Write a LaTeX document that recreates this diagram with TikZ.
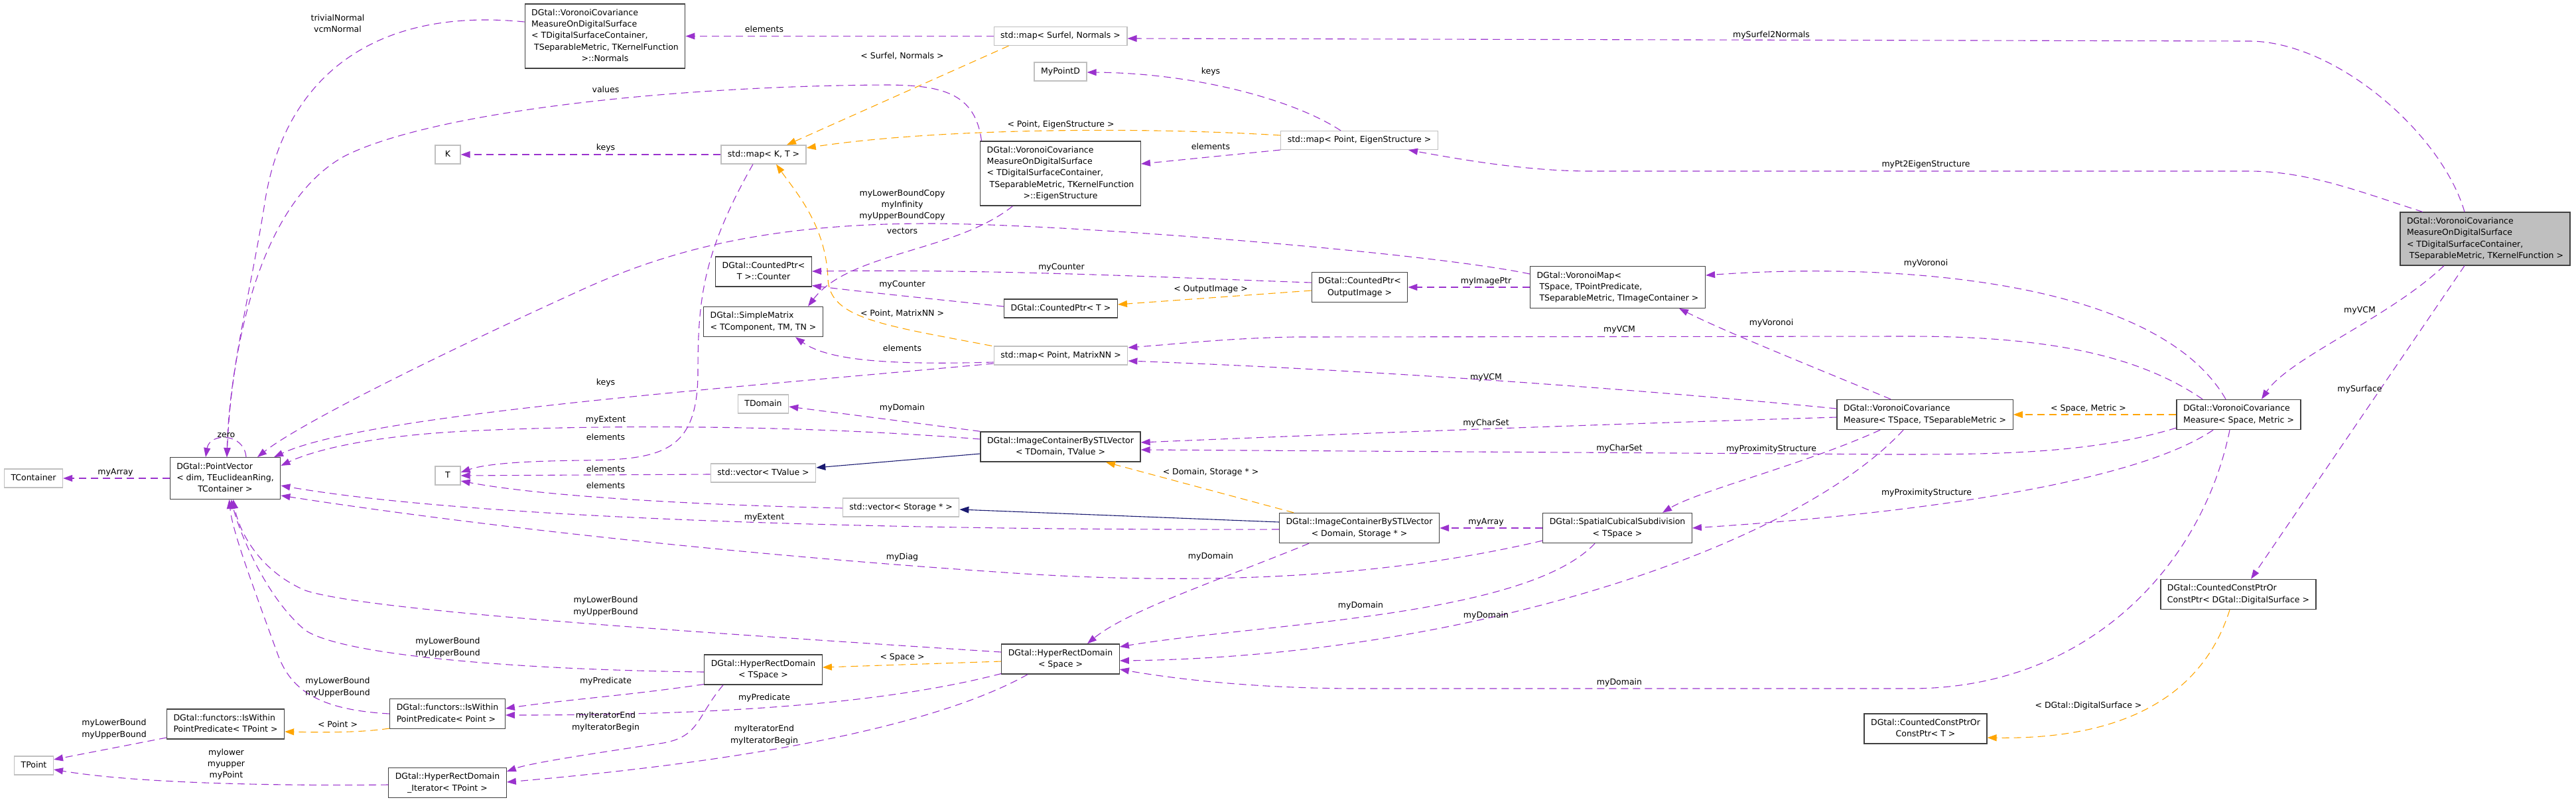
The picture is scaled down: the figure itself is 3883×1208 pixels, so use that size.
\documentclass[tikz,border=0pt]{standalone}
\usepackage{fontspec}
\setmainfont{DejaVu Sans}
\usetikzlibrary{arrows.meta}

\definecolor{usecol}{HTML}{9A32CD}
\definecolor{tmplcol}{HTML}{FFA500}
\definecolor{inhcol}{HTML}{191970}
\definecolor{boxdark}{HTML}{404040}
\definecolor{boxlight}{HTML}{BFBFBF}

\newcommand{\cltext}[1]{\begin{tabular}{@{}l@{}}#1\end{tabular}}
\newcommand{\lastrow}[1]{\multicolumn{1}{@{}c@{}}{#1}}

\begin{document}
\begin{tikzpicture}[x=1pt, y=-1pt,
  font=\fontsize{12.5}{17.3}\selectfont,
  box/.style={draw=boxdark, line width=1.3pt, fill=white, inner xsep=10pt, inner ysep=5.3pt, minimum width=38pt},
  ext/.style={box, draw=boxlight},
  cur/.style={box, fill=boxlight},
  use/.style={draw=usecol, line width=1.1pt, dash pattern=on 11pt off 7pt, -{Triangle[length=14pt, width=10pt]}},
  tmpl/.style={use, draw=tmplcol},
  inh/.style={draw=inhcol, line width=1.1pt, -{Triangle[length=14pt, width=10pt]}},
  lbl/.style={inner sep=0pt, align=center}]
                \useasboundingbox (0,0) rectangle (3883,1208);

                % Classes
                \node[box] (nrm) at (912,54.5) {\cltext{DGtal::VoronoiCovariance\\MeasureOnDigitalSurface\\< TDigitalSurfaceContainer,\\\ TSeparableMetric, TKernelFunction\\\lastrow{>::Normals}}};
                \node[ext] (mapsn) at (1598.5,54.5) {\cltext{std::map< Surfel, Normals >}};
                \node[ext] (mypd) at (1598.5,108) {\cltext{MyPointD}};
                \node[ext] (kk) at (675,233) {\cltext{K}};
                \node[ext] (mapkt) at (1151,233) {\cltext{std::map< K, T >}};
                \node[box] (eig) at (1598.5,261.5) {\cltext{DGtal::VoronoiCovariance\\MeasureOnDigitalSurface\\< TDigitalSurfaceContainer,\\\ TSeparableMetric, TKernelFunction\\\lastrow{>::EigenStructure}}};
                \node[ext] (mappe) at (2049,211.5) {\cltext{std::map< Point, EigenStructure >}};
                \node[cur] (vcmds) at (3746,360) {\cltext{DGtal::VoronoiCovariance\\MeasureOnDigitalSurface\\< TDigitalSurfaceContainer,\\\ TSeparableMetric, TKernelFunction >}};
                \node[box] (cnt) at (1151,409.5) {\cltext{DGtal::CountedPtr<\\\lastrow{T >::Counter}}};
                \node[box] (smat) at (1150.5,485) {\cltext{DGtal::SimpleMatrix\\< TComponent, TM, TN >}};
                \node[box] (cptr) at (1599,465) {\cltext{DGtal::CountedPtr< T >}};
                \node[box] (cpoi) at (2049.5,433) {\cltext{DGtal::CountedPtr<\\\lastrow{OutputImage >}}};
                \node[box] (vmap) at (2438.5,433) {\cltext{DGtal::VoronoiMap<\\\ TSpace, TPointPredicate,\\\ TSeparableMetric, TImageContainer >}};
                \node[ext] (mappm) at (1599,536) {\cltext{std::map< Point, MatrixNN >}};
                \node[ext] (tdom) at (1150.5,609) {\cltext{TDomain}};
                \node[box] (imgtv) at (1598.5,673.5) {\cltext{DGtal::ImageContainerBySTLVector\\\lastrow{< TDomain, TValue >}}};
                \node[ext] (vectv) at (1150.5,713) {\cltext{std::vector< TValue >}};
                \node[ext] (vecst) at (1358,765) {\cltext{std::vector< Storage * >}};
                \node[box] (imgds) at (2049,796) {\cltext{DGtal::ImageContainerBySTLVector\\\lastrow{< Domain, Storage * >}}};
                \node[box] (scs) at (2438,796) {\cltext{DGtal::SpatialCubicalSubdivision\\\lastrow{< TSpace >}}};
                \node[box] (vcmt) at (2901.5,625) {\cltext{DGtal::VoronoiCovariance\\Measure< TSpace, TSeparableMetric >}};
                \node[box] (vcms) at (3374.5,625) {\cltext{DGtal::VoronoiCovariance\\Measure< Space, Metric >}};
                \node[box] (pvec) at (339.5,721) {\cltext{DGtal::PointVector\\< dim, TEuclideanRing,\\\lastrow{TContainer >}}};
                \node[ext] (tcont) at (50.5,721) {\cltext{TContainer}};
                \node[ext] (tt) at (675,717) {\cltext{T}};
                \node[box] (iwp) at (674.5,1076) {\cltext{DGtal::functors::IsWithin\\PointPredicate< Point >}};
                \node[box] (iwtp) at (340,1091.5) {\cltext{DGtal::functors::IsWithin\\PointPredicate< TPoint >}};
                \node[ext] (tpt) at (51,1154) {\cltext{TPoint}};
                \node[box] (hrdi) at (674.5,1180) {\cltext{DGtal::HyperRectDomain\\\lastrow{\_Iterator< TPoint >}}};
                \node[box] (hrdt) at (1150.5,1009.5) {\cltext{DGtal::HyperRectDomain\\\lastrow{< TSpace >}}};
                \node[box] (hrds) at (1598.5,993.5) {\cltext{DGtal::HyperRectDomain\\\lastrow{< Space >}}};
                \node[box] (ccds) at (3374,896) {\cltext{DGtal::CountedConstPtrOr\\ConstPtr< DGtal::DigitalSurface >}};
                \node[box] (cct) at (2902.5,1098.5) {\cltext{DGtal::CountedConstPtrOr\\\lastrow{ConstPtr< T >}}};

                % Members of the surface measure
                \draw[use] ([xshift=-31]vcmds.north) .. controls (3680,200) and (3520,62) .. (3390,62) -- ([yshift=-3.5]mapsn.east);
                \draw[use] ([xshift=-94]vcmds.north) .. controls (3560,290) and (3480,258) .. (3390,258) -- (2397,258) .. controls (2300,258) and (2200,240) .. ([xshift=74]mappe.south);
                \draw[use] ([xshift=-62]vcmds.south) .. controls (3600,480) and (3450,540) .. ([xshift=34.5]vcms.north);
                \draw[use] ([xshift=-31]vcmds.south) -- ([xshift=19]ccds.north);
                \draw[tmpl] ([xshift=-13]ccds.south) .. controls (3320,1050) and (3200,1115) .. ([yshift=-13.5]cct.east);

                % Maps
                \draw[use] (mapsn.west) -- (nrm.east);
                \draw[tmpl] ([xshift=-78]mapsn.south) -- ([xshift=35]mapkt.north);
                \draw[tmpl] ([yshift=7.5]mappe.west) .. controls (1700,190) and (1400,195) .. ([yshift=10]mapkt.east);
                \draw[use] ([xshift=-28]mappe.north) .. controls (1950,150) and (1800,110) .. ([yshift=-1]mypd.east);
                \draw[use] ([yshift=-14.5]mappe.west) -- ([yshift=14.5]eig.east);
                \draw[use] (mapkt.west) -- (kk.east);
                \draw[use] ([xshift=-16]mapkt.south) .. controls (1060,380) and (1052,450) .. (1052,560) .. controls (1052,680) and (1000,693) .. (880,694) .. controls (780,695) and (730,700) .. ([yshift=5]tt.east);
                \draw[tmpl] ([xshift=-104]mappm.north) .. controls (1330,490) and (1250,480) .. (1248,420) .. controls (1245,340) and (1200,290) .. ([xshift=19]mapkt.south);
                \draw[use] ([yshift=-10]mappm.west) .. controls (1350,550) and (1250,545) .. ([xshift=48.5]smat.south);
                \draw[use] ([yshift=-12]mappm.west) .. controls (1100,585) and (550,625) .. ([xshift=73.5]pvec.north);

                % Into the point vector from above
                \draw[use] ([yshift=21.5]nrm.west) .. controls (560,10) and (430,120) .. (400,300) .. controls (380,430) and (345,560) .. ([xshift=2.5]pvec.north);
                \draw[use] ([xshift=-119]eig.north) .. controls (1470,140) and (1420,128) .. (1333,128) .. controls (1000,130) and (650,170) .. (520,235) .. controls (400,300) and (350,500) .. ([xshift=2.5]pvec.north);
                \draw[use] ([xshift=-72]eig.south) .. controls (1440,380) and (1280,380) .. ([xshift=67.5]smat.north);
                \draw[use] ([yshift=20]vmap.west) .. controls (2150,380) and (1600,337) .. (1400,337) .. controls (1150,337) and (1000,380) .. (870,440) .. controls (650,540) and (450,640) .. ([xshift=48.5]pvec.north);
                \draw[use] ([xshift=31.5]pvec.north) .. controls (368,652) and (316,652) .. ([xshift=-29.5]pvec.north);

                % Counted pointers
                \draw[use] (vmap.west) -- (cpoi.east);
                \draw[use] ([yshift=7]cpoi.west) .. controls (1800,420) and (1500,405) .. ([yshift=0.5]cnt.east);
                \draw[use] ([yshift=3]cptr.west) .. controls (1400,450) and (1300,440) .. ([yshift=-21]cnt.east);
                \draw[tmpl] ([yshift=-5]cpoi.west) -- ([yshift=6]cptr.east);

                % Voronoi covariance measures
                \draw[use] ([yshift=9]vcmt.west) .. controls (2400,580) and (2000,555) .. ([yshift=-8]mappm.east);
                \draw[use] ([xshift=-54.5]vcms.north) .. controls (3230,540) and (3100,507) .. (2880,507) -- (1950,508) .. controls (1850,510) and (1780,518) .. ([yshift=12]mappm.east);
                \draw[use] ([xshift=-51.5]vcmt.north) .. controls (2750,560) and (2600,500) .. ([xshift=92.5]vmap.south);
                \draw[use] ([xshift=-19.5]vcms.north) .. controls (3250,420) and (2850,395) .. ([yshift=18]vmap.east);
                \draw[tmpl] (vcms.west) -- (vcmt.east);
                \draw[use] ([yshift=-4]vcmt.west) .. controls (2400,640) and (2000,655) .. ([yshift=6.5]imgtv.east);
                \draw[use] ([yshift=-20]vcms.west) .. controls (3150,685) and (3000,685) .. (2850,685) -- ([yshift=-4.5]imgtv.east);
                \draw[use] ([xshift=-67.5]vcmt.south) .. controls (2720,700) and (2560,740) .. ([xshift=68]scs.north);
                \draw[use] ([xshift=-38.5]vcms.south) .. controls (3200,740) and (2800,780) .. (scs.east);
                \draw[use] ([xshift=-32.5]vcmt.south) .. controls (2700,830) and (2200,990) .. ([yshift=-2.5]hrds.east);
                \draw[use] ([xshift=-13.5]vcms.south) .. controls (3320,850) and (3150,1038) .. (2880,1038) -- (2050,1038) .. controls (1900,1038) and (1780,1025) .. ([yshift=-15.5]hrds.east);

                % Images and subdivision
                \draw[use] ([xshift=-34]scs.south) .. controls (2300,930) and (1900,940) .. ([yshift=18.5]hrds.east);
                \draw[use] ([xshift=-76]imgds.south) .. controls (1850,870) and (1700,920) .. ([xshift=40.5]hrds.north);
                \draw[use] ([yshift=-19]scs.west) .. controls (2050,880) and (1750,880) .. (1500,862) .. controls (1100,835) and (700,790) .. ([yshift=-26]pvec.east);
                \draw[use] ([yshift=-2]imgds.west) .. controls (1300,800) and (700,780) .. ([yshift=-11]pvec.east);
                \draw[inh] ([yshift=9]imgds.west) -- ([yshift=-3]vecst.east);
                \draw[inh] ([yshift=-10.5]imgtv.west) -- ([yshift=8]vectv.east);
                \draw[tmpl] ([xshift=-99]imgds.north) -- ([xshift=68.5]imgtv.south);
                \draw[use] (scs.west) -- (imgds.east);
                \draw[use] (imgtv.north west) -- ([yshift=-4]tdom.east);
                \draw[use] ([yshift=11.5]imgtv.west) .. controls (1200,640) and (900,640) .. (700,650) .. controls (550,658) and (470,680) .. ([yshift=19]pvec.east);
                \draw[use] ([yshift=-2]vectv.west) -- (tt.east);
                \draw[use] ([yshift=-1]vecst.west) .. controls (1000,760) and (800,745) .. ([yshift=-8]tt.east);
                \draw[use] (pvec.west) -- (tcont.east);

                % Domains
                \draw[use] ([yshift=10.5]hrds.west) .. controls (1000,950) and (550,920) .. (460,890) .. controls (390,860) and (360,800) .. ([xshift=12]pvec.south);
                \draw[use] ([yshift=-3.5]hrdt.west) .. controls (800,1010) and (520,990) .. (460,950) .. controls (400,900) and (360,800) .. ([xshift=9]pvec.south);
                \draw[use] (iwp.west) .. controls (480,1070) and (440,1040) .. (420,990) .. controls (380,880) and (350,800) .. ([xshift=6]pvec.south);
                \draw[use] ([yshift=-22]hrdt.west) .. controls (950,1048) and (850,1055) .. ([yshift=8]iwp.east);
                \draw[use] ([yshift=-22]hrds.west) .. controls (1300,1070) and (1000,1078) .. ([yshift=-2]iwp.east);
                \draw[tmpl] ([yshift=-3.5]hrds.west) -- ([yshift=3.5]hrdt.east);
                \draw[tmpl] ([yshift=-22]iwp.west) .. controls (540,1105) and (480,1104) .. ([yshift=-11.5]iwtp.east);
                \draw[use] ([yshift=-20.5]iwtp.west) -- ([yshift=9]tpt.east);
                \draw[use] ([yshift=-3]hrdi.west) .. controls (400,1185) and (200,1180) .. ([yshift=-6]tpt.east);
                \draw[use] ([xshift=-60.5]hrdt.south) .. controls (1050,1080) and (1055,1110) .. (1000,1120) .. controls (900,1135) and (800,1150) .. ([yshift=17]hrdi.east);
                \draw[use] ([xshift=-49.5]hrds.south) .. controls (1400,1100) and (1100,1150) .. ([yshift=1]hrdi.east);

                % Labels
                \node[lbl] (l1) at (2670,53) {mySurfel2Normals};
                \node[lbl] (l2) at (2903,248) {myPt2EigenStructure};
                \node[lbl] (l3) at (1152,44) {elements};
                \node[lbl] (l4) at (1360,84) {< Surfel, Normals >};
                \node[lbl] (l5) at (1599,188) {< Point, EigenStructure >};
                \node[lbl] (l6) at (1825,108) {keys};
                \node[lbl] (l7) at (1825,221) {elements};
                \node[lbl] (l8) at (913,223) {keys};
                \node[lbl] (l9) at (509,35) {trivialNormal\\vcmNormal};
                \node[lbl] (l10) at (913,135) {values};
                \node[lbl] (l11) at (1360,309) {myLowerBoundCopy\\myInfinity\\myUpperBoundCopy};
                \node[lbl] (l12) at (1360,348) {vectors};
                \node[lbl] (l13) at (1600,403) {myCounter};
                \node[lbl] (l14) at (1360,429) {myCounter};
                \node[lbl] (l15) at (1825,436) {< OutputImage >};
                \node[lbl] (l16) at (2240,424) {myImagePtr};
                \node[lbl] (l17) at (1360,472) {< Point, MatrixNN >};
                \node[lbl] (l18) at (1360,525) {elements};
                \node[lbl] (l19) at (2441,497) {myVCM};
                \node[lbl] (l20) at (2240,569) {myVCM};
                \node[lbl] (l21) at (2670,487) {myVoronoi};
                \node[lbl] (l22) at (2903,397) {myVoronoi};
                \node[lbl] (l23) at (3557,468) {myVCM};
                \node[lbl] (l24) at (3557,587) {mySurface};
                \node[lbl] (l25) at (3148,1064) {< DGtal::DigitalSurface >};
                \node[lbl] (l26) at (3148,616) {< Space, Metric >};
                \node[lbl] (l27) at (2240,638) {myCharSet};
                \node[lbl] (l28) at (2441,676) {myCharSet};
                \node[lbl] (l29) at (2670,677) {myProximityStructure};
                \node[lbl] (l30) at (2904,743) {myProximityStructure};
                \node[lbl] (l31) at (2240,928) {myDomain};
                \node[lbl] (l32) at (2441,1029) {myDomain};
                \node[lbl] (l33) at (2051,913) {myDomain};
                \node[lbl] (l34) at (1825,839) {myDomain};
                \node[lbl] (l35) at (1360,840) {myDiag};
                \node[lbl] (l36) at (1152,780) {myExtent};
                \node[lbl] (l37) at (1825,712) {< Domain, Storage * >};
                \node[lbl] (l38) at (2240,787) {myArray};
                \node[lbl] (l39) at (1360,615) {myDomain};
                \node[lbl] (l40) at (913,633) {myExtent};
                \node[lbl] (l41) at (913,577) {keys};
                \node[lbl] (l42) at (913,659) {elements};
                \node[lbl] (l43) at (913,707) {elements};
                \node[lbl] (l44) at (913,732) {elements};
                \node[lbl] (l45) at (174,712) {myArray};
                \node[lbl] (l46) at (341,656) {zero};
                \node[lbl] (l47) at (913,914) {myLowerBound\\myUpperBound};
                \node[lbl] (l48) at (675,976) {myLowerBound\\myUpperBound};
                \node[lbl] (l49) at (509,1036) {myLowerBound\\myUpperBound};
                \node[lbl] (l50) at (913,1027) {myPredicate};
                \node[lbl] (l51) at (1152,1052) {myPredicate};
                \node[lbl] (l52) at (1360,991) {< Space >};
                \node[lbl] (l53) at (509,1092) {< Point >};
                \node[lbl] (l54) at (172,1099) {myLowerBound\\myUpperBound};
                \node[lbl] (l55) at (341,1152) {mylower\\myupper\\myPoint};
                \node[lbl] (l56) at (913,1088) {myIteratorEnd\\myIteratorBegin};
                \node[lbl] (l57) at (1152,1108) {myIteratorEnd\\myIteratorBegin};
\end{tikzpicture}
\end{document}
